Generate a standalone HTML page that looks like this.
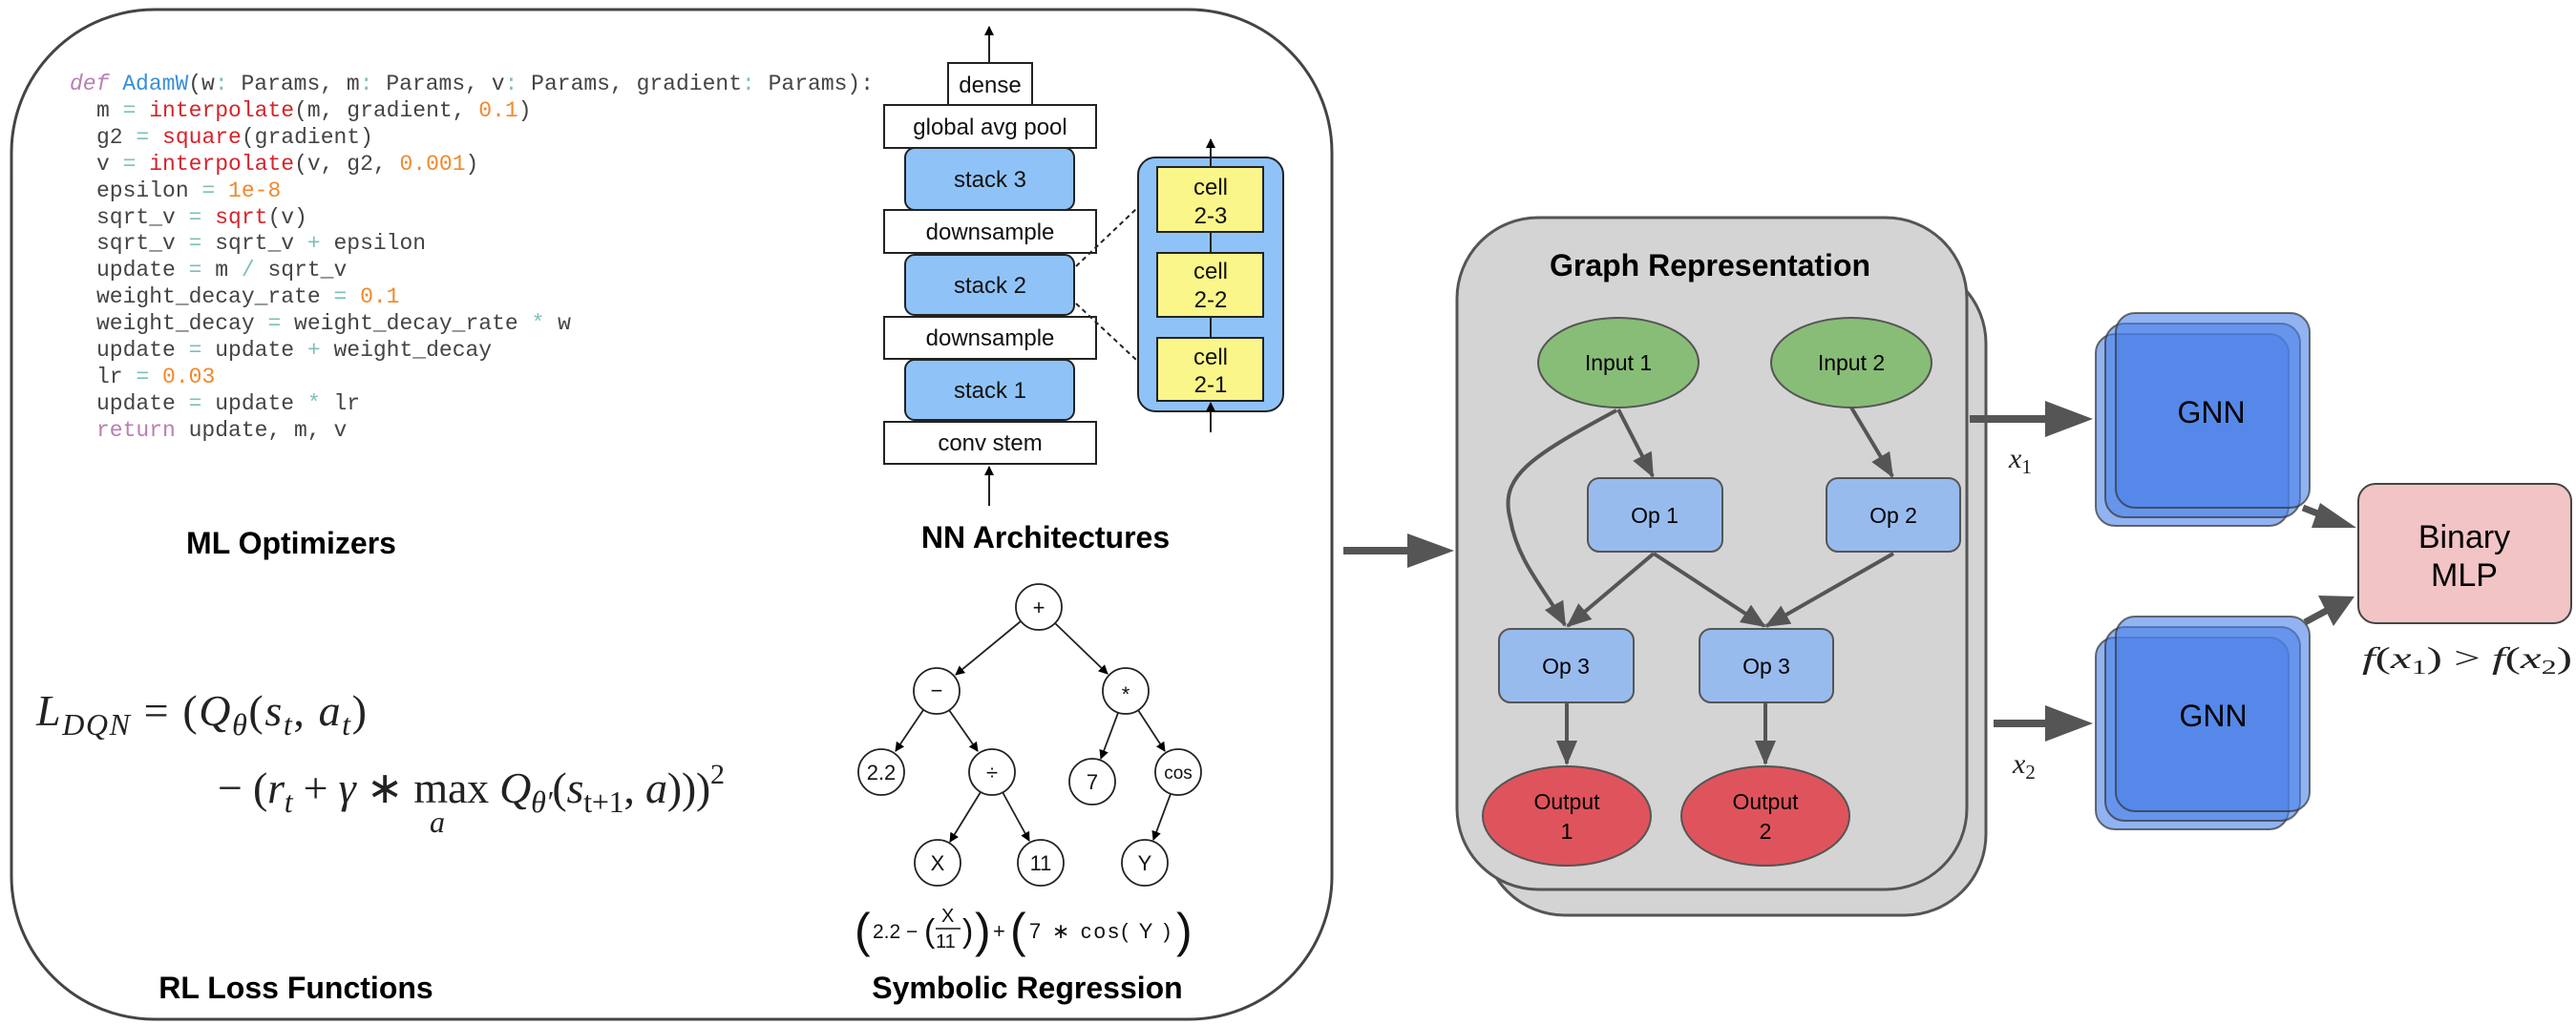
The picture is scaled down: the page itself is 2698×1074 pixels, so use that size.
<!DOCTYPE html>
<html><head><meta charset="utf-8"><style>
html,body{margin:0;padding:0;background:#fff;}
svg{display:block;}
.sans{font-family:"Liberation Sans",sans-serif;}
.mono{font-family:"Liberation Mono","DejaVu Sans Mono",monospace;}
.serif{font-family:"Liberation Serif",serif;}
</style></head><body>
<svg width="2698" height="1074" viewBox="0 0 2698 1074" xmlns="http://www.w3.org/2000/svg">
<defs>
<marker id="ah" markerWidth="10" markerHeight="10" refX="9" refY="5" orient="auto" markerUnits="userSpaceOnUse"><path d="M0,0 L10,5 L0,10 z" fill="#000"/></marker>
<marker id="ag" markerWidth="26" markerHeight="26" refX="24" refY="13" orient="auto" markerUnits="userSpaceOnUse"><path d="M0,2 L26,13 L0,24 z" fill="#555"/></marker>
</defs>

<rect x="12" y="10" width="1383" height="1058" rx="150" ry="150" fill="#fff" stroke="#444" stroke-width="3"/>

<!-- Code -->
<g class="mono" font-size="23" fill="#444">
<text x="73" y="94"><tspan fill="#b97fb4" font-style="italic">def</tspan> <tspan fill="#3a8fd9">AdamW</tspan>(w<tspan fill="#7cc0b8">:</tspan> Params, m<tspan fill="#7cc0b8">:</tspan> Params, v<tspan fill="#7cc0b8">:</tspan> Params, gradient<tspan fill="#7cc0b8">:</tspan> Params):</text>
<text x="101" y="122">m <tspan fill="#7cc0b8">=</tspan> <tspan fill="#d4242c">interpolate</tspan>(m, gradient, <tspan fill="#f0892c">0.1</tspan>)</text>
<text x="101" y="150">g2 <tspan fill="#7cc0b8">=</tspan> <tspan fill="#d4242c">square</tspan>(gradient)</text>
<text x="101" y="178">v <tspan fill="#7cc0b8">=</tspan> <tspan fill="#d4242c">interpolate</tspan>(v, g2, <tspan fill="#f0892c">0.001</tspan>)</text>
<text x="101" y="206">epsilon <tspan fill="#7cc0b8">=</tspan> <tspan fill="#f0892c">1e-8</tspan></text>
<text x="101" y="234">sqrt_v <tspan fill="#7cc0b8">=</tspan> <tspan fill="#d4242c">sqrt</tspan>(v)</text>
<text x="101" y="261">sqrt_v <tspan fill="#7cc0b8">=</tspan> sqrt_v <tspan fill="#7cc0b8">+</tspan> epsilon</text>
<text x="101" y="289">update <tspan fill="#7cc0b8">=</tspan> m <tspan fill="#7cc0b8">/</tspan> sqrt_v</text>
<text x="101" y="317">weight_decay_rate <tspan fill="#7cc0b8">=</tspan> <tspan fill="#f0892c">0.1</tspan></text>
<text x="101" y="345">weight_decay <tspan fill="#7cc0b8">=</tspan> weight_decay_rate <tspan fill="#7cc0b8">*</tspan> w</text>
<text x="101" y="373">update <tspan fill="#7cc0b8">=</tspan> update <tspan fill="#7cc0b8">+</tspan> weight_decay</text>
<text x="101" y="401">lr <tspan fill="#7cc0b8">=</tspan> <tspan fill="#f0892c">0.03</tspan></text>
<text x="101" y="429">update <tspan fill="#7cc0b8">=</tspan> update <tspan fill="#7cc0b8">*</tspan> lr</text>
<text x="101" y="457"><tspan fill="#b97fb4">return</tspan> update, m, v</text>
</g>

<g class="sans" font-size="32" font-weight="bold" fill="#000" text-anchor="middle">
<text x="305" y="580">ML Optimizers</text>
<text x="1095" y="574">NN Architectures</text>
<text x="310" y="1046">RL Loss Functions</text>
<text x="1076" y="1046">Symbolic Regression</text>
</g>

<!-- NN architecture -->
<g stroke="#222" stroke-width="2">
<line x1="1036" y1="66" x2="1036" y2="28" marker-end="url(#ah)"/>
<line x1="1036" y1="530" x2="1036" y2="489" marker-end="url(#ah)"/>
<rect x="993" y="66" width="88" height="44" fill="#fff"/>
<rect x="926" y="110" width="222" height="45" fill="#fff"/>
<rect x="948" y="155" width="177" height="65" rx="10" fill="#8fc3f7"/>
<rect x="926" y="220" width="222" height="45" fill="#fff"/>
<rect x="948" y="267" width="177" height="63" rx="10" fill="#8fc3f7"/>
<rect x="926" y="332" width="222" height="44" fill="#fff"/>
<rect x="948" y="377" width="177" height="63" rx="10" fill="#8fc3f7"/>
<rect x="926" y="442" width="222" height="44" fill="#fff"/>
<rect x="1192" y="165" width="152" height="266" rx="18" fill="#8fc3f7"/>
<line x1="1268" y1="177" x2="1268" y2="146" marker-end="url(#ah)"/>
<line x1="1268" y1="453" x2="1268" y2="422" marker-end="url(#ah)"/>
<line x1="1268" y1="243" x2="1268" y2="265"/>
<line x1="1268" y1="332" x2="1268" y2="354"/>
<rect x="1212" y="175" width="111" height="68" fill="#fbf68a"/>
<rect x="1212" y="265" width="111" height="67" fill="#fbf68a"/>
<rect x="1212" y="354" width="111" height="66" fill="#fbf68a"/>
<line x1="1127" y1="279" x2="1190" y2="219" stroke-dasharray="5,4"/>
<line x1="1127" y1="318" x2="1190" y2="377" stroke-dasharray="5,4"/>
</g>
<g class="sans" font-size="24" fill="#111" text-anchor="middle">
<text x="1037" y="97">dense</text>
<text x="1037" y="141">global avg pool</text>
<text x="1037" y="196">stack 3</text>
<text x="1037" y="251">downsample</text>
<text x="1037" y="307">stack 2</text>
<text x="1037" y="362">downsample</text>
<text x="1037" y="417">stack 1</text>
<text x="1037" y="472">conv stem</text>
<text x="1268" y="204">cell</text><text x="1268" y="234">2-3</text>
<text x="1268" y="292">cell</text><text x="1268" y="322">2-2</text>
<text x="1268" y="382">cell</text><text x="1268" y="411">2-1</text>
</g>

<!-- Tree -->
<g stroke="#222" stroke-width="1.8" fill="none">
<line x1="1069" y1="651" x2="1001" y2="707" marker-end="url(#ah)"/>
<line x1="1105" y1="653" x2="1160" y2="706" marker-end="url(#ah)"/>
<line x1="967" y1="744" x2="938" y2="787" marker-end="url(#ah)"/>
<line x1="994" y1="744" x2="1024" y2="787" marker-end="url(#ah)"/>
<line x1="1171" y1="747" x2="1153" y2="795" marker-end="url(#ah)"/>
<line x1="1192" y1="744" x2="1220" y2="787" marker-end="url(#ah)"/>
<line x1="1027" y1="830" x2="995" y2="882" marker-end="url(#ah)"/>
<line x1="1050" y1="830" x2="1078" y2="881" marker-end="url(#ah)"/>
<line x1="1226" y1="832" x2="1208" y2="880" marker-end="url(#ah)"/>
</g>
<g stroke="#222" stroke-width="1.8" fill="#fff">
<ellipse cx="1088" cy="636" rx="24" ry="24"/>
<ellipse cx="981" cy="724" rx="24" ry="24"/>
<ellipse cx="1179" cy="724" rx="24" ry="24"/>
<ellipse cx="923" cy="809" rx="24" ry="24"/>
<ellipse cx="1039" cy="809" rx="24" ry="24"/>
<ellipse cx="1144" cy="819" rx="24" ry="24"/>
<ellipse cx="1234" cy="809" rx="24" ry="24"/>
<ellipse cx="982" cy="904" rx="24" ry="24"/>
<ellipse cx="1090" cy="904" rx="24" ry="24"/>
<ellipse cx="1199" cy="904" rx="24" ry="24"/>
</g>
<g class="sans" font-size="22" fill="#111" text-anchor="middle">
<text x="1088" y="644">+</text>
<text x="981" y="731">−</text>
<text x="1179" y="735">*</text>
<text x="923" y="817">2.2</text>
<text x="1039" y="817">÷</text>
<text x="1144" y="827">7</text>
<text x="1234" y="816" font-size="19">cos</text>
<text x="982" y="912">X</text>
<text x="1090" y="912">11</text>
<text x="1199" y="912">Y</text>
</g>
<g class="sans" fill="#111">
<text x="895" y="992" font-size="50">(</text>
<text x="914" y="983" font-size="21">2.2 −</text>
<text x="968" y="987" font-size="34">(</text>
<text x="986" y="966" font-size="20">X</text>
<line x1="980" y1="973" x2="1006" y2="973" stroke="#111" stroke-width="1.5"/>
<text x="980" y="993" font-size="20">11</text>
<text x="1008" y="987" font-size="34">)</text>
<text x="1021" y="992" font-size="50">)</text>
<text x="1040" y="983" font-size="22">+</text>
<text x="1058" y="992" font-size="50">(</text>
<text x="1078" y="983" font-size="22" textLength="148" lengthAdjust="spacing">7 ∗ cos( Y )</text>
<text x="1232" y="992" font-size="50">)</text>
</g>

<!-- RL loss formula -->
<g class="serif" font-style="italic" font-size="46" fill="#222">
<text x="38" y="760" textLength="346" lengthAdjust="spacing">L<tspan font-size="32" dy="10">DQN</tspan><tspan dy="-10" font-style="normal"> = (</tspan>Q<tspan font-size="32" dy="10">θ</tspan><tspan dy="-10" font-style="normal">(</tspan>s<tspan font-size="32" dy="10">t</tspan><tspan dy="-10" font-style="normal">, </tspan>a<tspan font-size="32" dy="10">t</tspan><tspan dy="-10" font-style="normal">)</tspan></text>
<text x="228" y="841" textLength="531" lengthAdjust="spacing"><tspan font-style="normal">− (</tspan>r<tspan font-size="32" dy="10">t</tspan><tspan dy="-10" font-style="normal"> + </tspan>γ<tspan font-style="normal"> ∗ max </tspan>Q<tspan font-size="32" dy="10">θ′</tspan><tspan dy="-10" font-style="normal">(</tspan>s<tspan font-size="32" dy="10" font-style="normal">t+1</tspan><tspan dy="-10" font-style="normal">, </tspan>a<tspan font-style="normal">)))</tspan><tspan font-size="30" dy="-20" font-style="normal">2</tspan></text>
<text x="450" y="872" font-size="32">a</text>
</g>

<line x1="1407" y1="577" x2="1478" y2="577" stroke="#555" stroke-width="8"/>
<path d="M1474,559 L1523,577 L1474,595 z" fill="#555"/>

<!-- Graph representation -->
<rect x="1554" y="275" width="526" height="684" rx="85" fill="#d4d4d4" stroke="#555" stroke-width="3"/>
<rect x="1526" y="228" width="534" height="704" rx="85" fill="#d4d4d4" stroke="#555" stroke-width="3"/>
<text x="1791" y="289" class="sans" font-size="32" font-weight="bold" text-anchor="middle" fill="#000">Graph Representation</text>
<g stroke="#555" stroke-width="4" fill="none">
<line x1="1695" y1="429" x2="1731" y2="499" marker-end="url(#ag)"/>
<line x1="1939" y1="427" x2="1982" y2="499" marker-end="url(#ag)"/>
<line x1="1732" y1="580" x2="1642" y2="656" marker-end="url(#ag)"/>
<line x1="1732" y1="580" x2="1848" y2="656" marker-end="url(#ag)"/>
<line x1="1983" y1="580" x2="1850" y2="656" marker-end="url(#ag)"/>
<path d="M1693,430 C1600,480 1570,500 1582,545 C1590,590 1620,620 1639,655" marker-end="url(#ag)"/>
<line x1="1641" y1="737" x2="1641" y2="800" marker-end="url(#ag)"/>
<line x1="1849" y1="737" x2="1849" y2="800" marker-end="url(#ag)"/>
</g>
<g stroke="#555" stroke-width="2">
<ellipse cx="1695" cy="380" rx="84" ry="47" fill="#88bd77"/>
<ellipse cx="1939" cy="380" rx="84" ry="47" fill="#88bd77"/>
<rect x="1663" y="501" width="141" height="77" rx="12" fill="#98bbee"/>
<rect x="1913" y="501" width="140" height="77" rx="12" fill="#98bbee"/>
<rect x="1570" y="659" width="141" height="77" rx="12" fill="#98bbee"/>
<rect x="1780" y="659" width="140" height="77" rx="12" fill="#98bbee"/>
<ellipse cx="1641" cy="855" rx="88" ry="52" fill="#df545c"/>
<ellipse cx="1849" cy="855" rx="88" ry="52" fill="#df545c"/>
</g>
<g class="sans" font-size="23" fill="#000" text-anchor="middle">
<text x="1695" y="388">Input 1</text>
<text x="1939" y="388">Input 2</text>
<text x="1733" y="548">Op 1</text>
<text x="1983" y="548">Op 2</text>
<text x="1640" y="706">Op 3</text>
<text x="1850" y="706">Op 3</text>
<text x="1641" y="848">Output</text><text x="1641" y="879">1</text>
<text x="1849" y="848">Output</text><text x="1849" y="879">2</text>
</g>

<line x1="2063" y1="439" x2="2145" y2="439" stroke="#555" stroke-width="8"/>
<path d="M2142,420 L2192,439 L2142,458 z" fill="#555"/>
<line x1="2088" y1="758" x2="2145" y2="758" stroke="#555" stroke-width="8"/>
<path d="M2142,739 L2192,758 L2142,777 z" fill="#555"/>
<g class="serif" font-style="italic" font-size="30" fill="#222">
<text x="2104" y="490">x<tspan font-size="21" dy="6" font-style="normal">1</tspan></text>
<text x="2108" y="810">x<tspan font-size="21" dy="6" font-style="normal">2</tspan></text>
</g>

<g stroke="#333" stroke-opacity="0.7" stroke-width="2" fill="#4a80e8" fill-opacity="0.6">
<rect x="2195" y="350" width="202" height="201" rx="20"/>
<rect x="2205" y="339" width="204" height="203" rx="20"/>
<rect x="2216" y="328" width="203" height="204" rx="20"/>
<rect x="2195" y="668" width="202" height="201" rx="20"/>
<rect x="2205" y="657" width="204" height="203" rx="20"/>
<rect x="2216" y="646" width="203" height="204" rx="20"/>
</g>
<g class="sans" font-size="32" fill="#000" text-anchor="middle">
<text x="2316" y="443">GNN</text>
<text x="2318" y="761">GNN</text>
</g>

<line x1="2412" y1="532" x2="2440" y2="543" stroke="#555" stroke-width="7"/>
<path d="M2430,527 L2468,553 L2421,553 z" fill="#555"/>
<line x1="2414" y1="652" x2="2440" y2="638" stroke="#555" stroke-width="7"/>
<path d="M2428,624 L2466,625 L2444,656 z" fill="#555"/>

<rect x="2470" y="507" width="223" height="146" rx="18" fill="#f2c4c6" stroke="#444" stroke-width="2"/>
<g class="sans" font-size="34" fill="#000" text-anchor="middle">
<text x="2581" y="574">Binary</text>
<text x="2581" y="614">MLP</text>
</g>
<text x="2474" y="700" class="serif" font-style="italic" font-size="32" fill="#222" textLength="220" lengthAdjust="spacingAndGlyphs">f<tspan font-style="normal">(</tspan>x<tspan font-size="21" font-style="normal" dy="6">1</tspan><tspan font-style="normal" dy="-6">) &gt; </tspan>f<tspan font-style="normal">(</tspan>x<tspan font-size="21" font-style="normal" dy="6">2</tspan><tspan font-style="normal" dy="-6">)</tspan></text>
</svg>
</body></html>
